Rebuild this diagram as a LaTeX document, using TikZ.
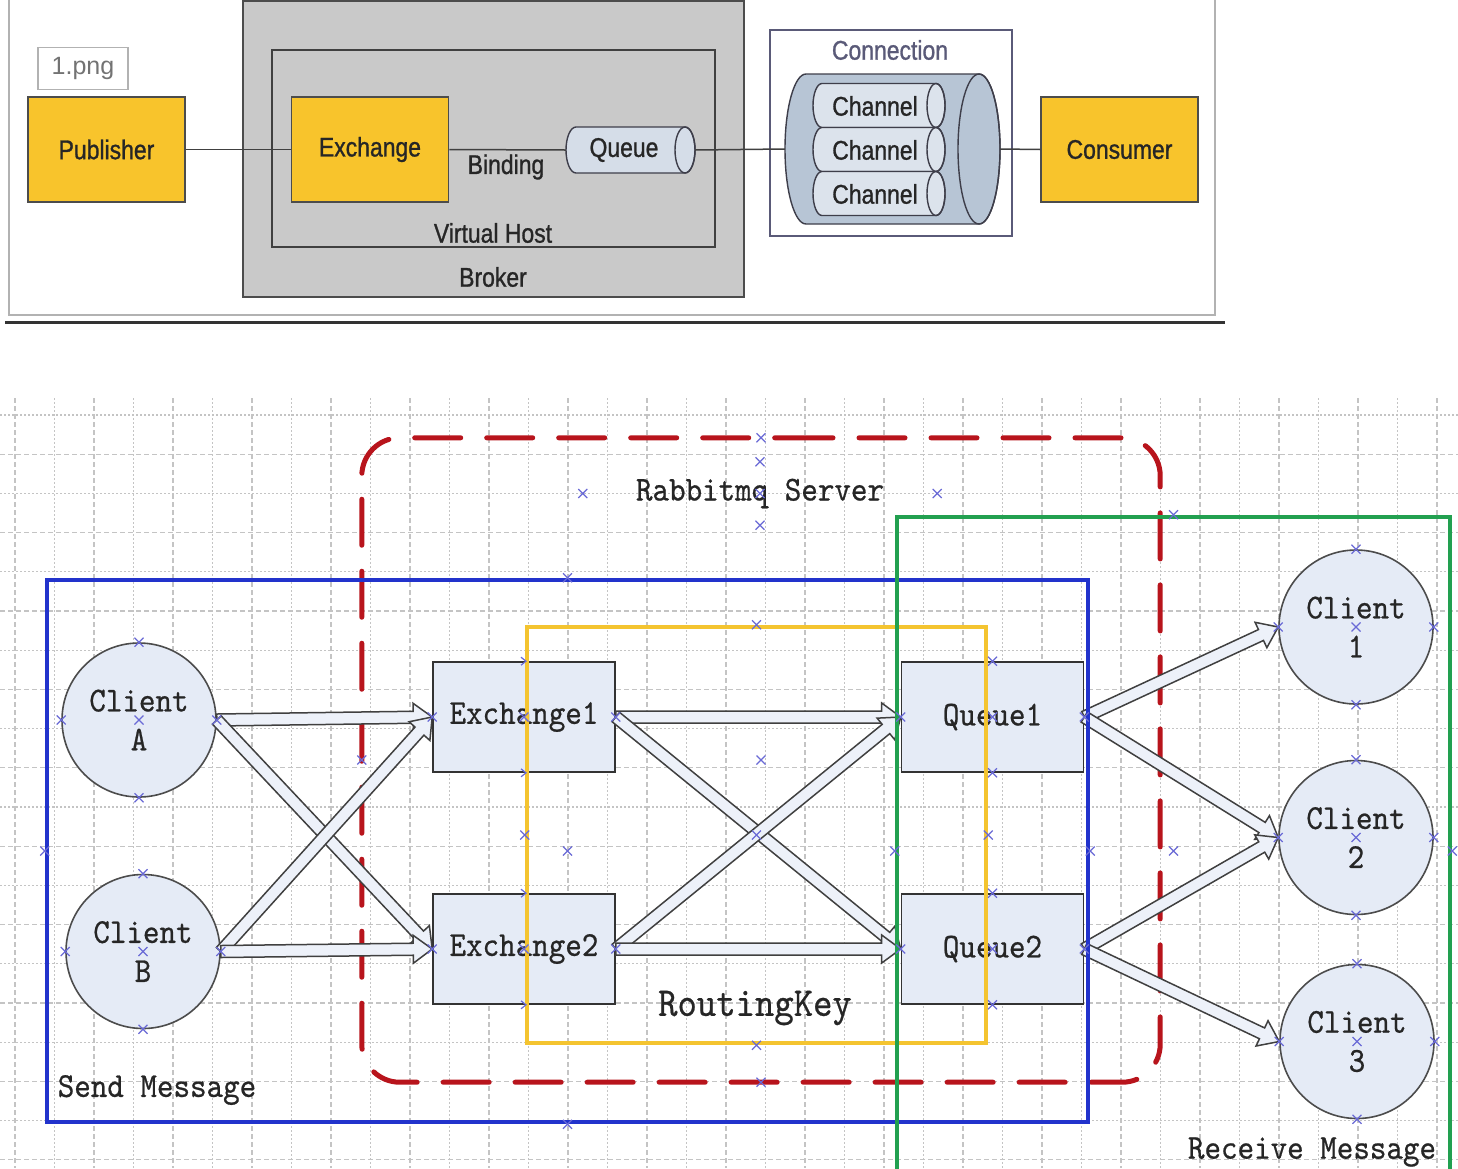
\documentclass[tikz,border=0pt]{standalone}
\usepackage{fontspec}
\usetikzlibrary{calc}
\newfontfamily\topfont{Liberation Sans}[FakeStretch=0.85,FakeBold=1]
\newfontfamily\pngfont{Liberation Sans}
\newfontfamily\simfont{lmmono10-regular}[Extension=.otf,FakeStretch=0.9,FakeBold=0.6]
\definecolor{ylw}{HTML}{F8C42C}
\definecolor{brokerc}{HTML}{C9C9C9}
\definecolor{qfill}{HTML}{D5DDE8}
\definecolor{cfill}{HTML}{B7C5D5}
\definecolor{chfill}{HTML}{DCE3EC}
\definecolor{nfill}{HTML}{E5EBF6}
\definecolor{rred}{HTML}{B8141C}
\definecolor{bblue}{HTML}{2233CC}
\definecolor{ggreen}{HTML}{22A050}
\definecolor{rkgold}{HTML}{F4C430}
\definecolor{mkc}{HTML}{6A6AD6}
\definecolor{gridc}{HTML}{C4C4C4}
\definecolor{connc}{HTML}{5A5A78}
\definecolor{cylc}{HTML}{3E3E4A}
\newcommand\hcyl[6]{%
  \filldraw[fill=#6,draw=cylc,line width=1.4pt] (#1+#5,#3-#4) -- (#2-#5,#3-#4)
    arc[start angle=-90,end angle=90,x radius=#5pt,y radius=#4pt] -- (#1+#5,#3+#4)
    arc[start angle=90,end angle=270,x radius=#5pt,y radius=#4pt] -- cycle;
  \draw[draw=cylc,line width=1.4pt] (#2-#5,#3) ellipse [x radius=#5pt,y radius=#4pt];}
\newcommand\fatarrow[2]{%
  \coordinate (fa-s) at (#1);
  \coordinate (fa-t) at (#2);
  \coordinate (fa-h) at ($(fa-t)!19pt!(fa-s)$);
  \draw[fatarr] ($(fa-s)!6pt!90:(fa-t)$) -- ($(fa-h)!6pt!90:(fa-t)$) -- ($(fa-h)!14pt!90:(fa-t)$)
    -- (fa-t) -- ($(fa-h)!14pt!-90:(fa-t)$) -- ($(fa-h)!6pt!-90:(fa-t)$) -- ($(fa-s)!6pt!-90:(fa-t)$) -- cycle;}
\tikzset{
  ybox/.style={rectangle,fill=ylw,draw=black!70,line width=1.5pt,minimum width=157pt,minimum height=105pt,
    font=\topfont\fontsize{27}{30}\selectfont,text=black!85},
  lbl/.style={font=\topfont\fontsize{27}{30}\selectfont,text=black!85,inner sep=0},
  tline/.style={draw=black!75,line width=1.5pt},
  cli/.style={circle,draw=black!70,line width=1.6pt,fill=nfill,minimum size=154pt,inner sep=0,
    font=\simfont\fontsize{35}{39}\selectfont,align=center,text=black!85},
  qbox/.style={rectangle,draw=black!80,line width=1.6pt,fill=nfill,minimum width=182pt,minimum height=110pt,
    font=\simfont\fontsize{35}{39}\selectfont,text=black!85},
  slbl/.style={font=\simfont\fontsize{35}{39}\selectfont,text=black!85,inner sep=0},
  fatarr/.style={fill=nfill!70!white,draw=black!75,line width=1.5pt,line join=miter},
  griddash/.style={draw=gridc,line width=1.3pt,dash pattern=on 5pt off 3pt},
  griddot/.style={draw=gridc,line width=1.3pt,dash pattern=on 1.5pt off 2.5pt},
  xm/.pic={\draw[draw=mkc,line width=1.2pt] (-4.5,-4.5) -- (4.5,4.5) (-4.5,4.5) -- (4.5,-4.5);},
  chev/.pic={\draw[draw=mkc,line width=1.2pt] (-3,-4) -- (2,0) -- (-3,4);},
}
\begin{document}
\begin{tikzpicture}[x=1pt,y=1pt,yscale=-1]
\useasboundingbox (0,0) rectangle (1458,1168);
\fill[white] (0,0) rectangle (1458,1168);
\clip (0,0) rectangle (1458,1168);
% ---------- top screenshot ----------
\draw[draw=black!30,line width=2pt] (9,0) -- (9,315) -- (1215,315) -- (1215,0);
\draw[draw=black!80,line width=3pt] (5,322) -- (1225,322);
\node[rectangle,draw=black!70,fill=brokerc,line width=1.8pt,minimum width=501pt,minimum height=296pt,inner sep=0] (broker) at (493.5,149) {};
\node[rectangle,draw=black!75,line width=1.8pt,minimum width=443pt,minimum height=197pt,inner sep=0] (vhost) at (493.5,148.5) {};
\node[lbl] (vhostl) at (493,233) {Virtual Host};
\node[lbl] (brokerl) at (493,277) {Broker};
\node[rectangle,draw=connc,fill=white,line width=1.8pt,minimum width=242pt,minimum height=206pt,inner sep=0] (connbox) at (891,133) {};
\node[lbl,text=connc] (connl) at (890,50) {Connection};
\node[ybox] (pub) at (106.5,149.5) {Publisher};
\node[ybox] (exch) at (370,149.5) {Exchange};
\node[ybox] (cons) at (1119.5,149.5) {Consumer};
\hcyl{566}{695}{150}{23}{10}{qfill}
\node[inner sep=0,minimum width=129pt,minimum height=46pt] (queue) at (630.5,150) {};
\node[lbl] (queuel) at (624,150) {Queue};
\hcyl{785}{1000}{149}{75}{21}{cfill}
\node[inner sep=0,minimum width=215pt,minimum height=150pt] (conncyl) at (892.5,149) {};
\hcyl{813}{945}{105.5}{22}{9}{chfill}
\hcyl{813}{945}{149.5}{22}{9}{chfill}
\hcyl{813}{945}{193.5}{22}{9}{chfill}
\node[lbl] (ch1) at (875,106) {Channel};
\node[lbl] (ch2) at (875,150) {Channel};
\node[lbl] (ch3) at (875,194) {Channel};
\draw[tline] (pub.east) -- (exch.west);
\draw[tline] (exch.east) -- (queue.west);
\draw[tline] (queue.east) -- (conncyl.west);
\draw[tline] (conncyl.east) -- (cons.west);
\node[lbl] (bindl) at (506,167) {Binding};
\node[rectangle,draw=black!30,fill=white,line width=1.2pt,minimum width=90pt,minimum height=42pt,
  font=\pngfont\fontsize{25}{28}\selectfont,text=black!55] (png) at (83,68.5) {1.png};
% ---------- bottom grid diagram ----------
\begin{scope}
\clip (0,398) rectangle (1458,1168);
\foreach \k in {0,2,...,36} \draw[griddash] (15+39.5*\k,398) -- (15+39.5*\k,1168);
\foreach \k in {1,3,...,35} \draw[griddot] (15+39.5*\k,398) -- (15+39.5*\k,1168);
\foreach \k in {0,2,...,18} \draw[griddot] (0,415+39.2*\k) -- (1458,415+39.2*\k);
\foreach \k in {1,3,...,19} \draw[griddash] (0,415+39.2*\k) -- (1458,415+39.2*\k);
\end{scope}
\node[inner sep=0,minimum width=798pt,minimum height=644pt] (rmq) at (761,760) {};
\draw[draw=rred,line width=5pt,dash pattern=on 46pt off 26pt,dash phase=12pt,rounded corners=38pt,line cap=round]
  (rmq.north) -- (rmq.north east) -- (rmq.south east) -- (rmq.south west) -- (rmq.north west) -- cycle;
\node[cli] (ca) at (139,720) {Client\\A};
\node[cli] (cb) at (143,951.5) {Client\\B};
\node[cli] (c1) at (1356,627) {Client\\1};
\node[cli] (c2) at (1356,837.5) {Client\\2};
\node[cli] (c3) at (1357,1041.5) {Client\\3};
\node[qbox] (ex1) at (524,717) {Exchange1};
\node[qbox] (ex2) at (524,949) {Exchange2};
\node[qbox] (q1) at (992.5,717) {Queue1};
\node[qbox] (q2) at (992.5,949) {Queue2};
\fatarrow{ca.east}{ex1.west}
\fatarrow{ca.east}{ex2.west}
\fatarrow{cb.east}{ex1.west}
\fatarrow{cb.east}{ex2.west}
\fatarrow{ex1.east}{q1.west}
\fatarrow{ex1.east}{q2.west}
\fatarrow{ex2.east}{q1.west}
\fatarrow{ex2.east}{q2.west}
\fatarrow{q1.east}{c1.west}
\fatarrow{q1.east}{c2.west}
\fatarrow{q2.east}{c2.west}
\fatarrow{q2.east}{c3.west}
\node[draw=bblue,line width=4.5pt,minimum width=1041pt,minimum height=542pt,inner sep=0] (sendbox) at (567.5,851) {};
\node[draw=rkgold,line width=4.5pt,minimum width=459pt,minimum height=416pt,inner sep=0] (rkbox) at (756.5,835) {};
\node[draw=ggreen,line width=4.5pt,minimum width=553pt,minimum height=668pt,inner sep=0] (recvbox) at (1173.5,851) {};
\node[slbl,minimum width=354pt,minimum height=63pt] (rmql) at (760,493.5) {Rabbitmq Server};
\node[slbl] (sendl) at (157,1090) {Send Message};
\node[slbl] (recvl) at (1312,1152) {Receive Message};
\node[slbl,font=\simfont\fontsize{41}{44}\selectfont] (rkl) at (755,1008) {RoutingKey};
% connection-point markers
\foreach \p in {rmq.north,rmq.south,rmq.west,rmq.center,
  sendbox.north,sendbox.south,sendbox.west,sendbox.east,sendbox.center,
  rkbox.north,rkbox.south,rkbox.west,rkbox.east,rkbox.center,
  recvbox.north,recvbox.west,recvbox.east,recvbox.center,
  rmql.north,rmql.south,rmql.west,rmql.east,rmql.center,
  ex1.center,ex1.west,ex1.east,ex2.center,ex2.west,ex2.east}
  \pic at (\p) {xm};
\foreach \n in {ca,cb,c1,c2,c3,q1,q2}
  \foreach \a in {north,south,west,east,center}
    \pic at (\n.\a) {xm};
\foreach \p in {ex1.north,ex1.south,ex2.north,ex2.south}
  \pic at (\p) {chev};
\end{tikzpicture}
\end{document}
